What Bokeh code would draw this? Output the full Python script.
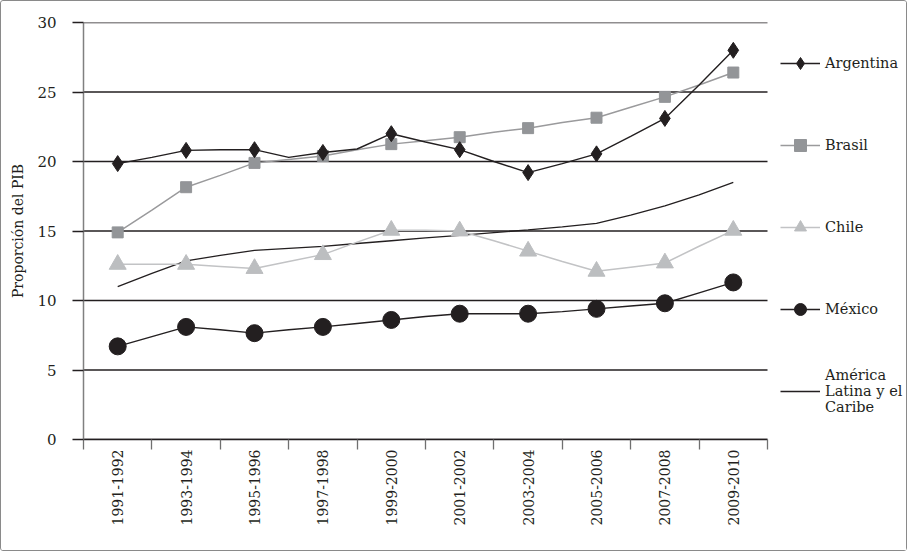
import math
from bokeh.plotting import figure
from bokeh.models import FixedTicker, Legend, LegendItem, Range1d
from bokeh.embed import file_html
from bokeh.resources import INLINE

periods = ["1991-1992", "1993-1994", "1995-1996", "1997-1998", "1999-2000",
           "2001-2002", "2003-2004", "2005-2006", "2007-2008", "2009-2010"]

# values at each period (markers) and at the in-between year (line vertices)
argentina = [19.85, 20.8, 20.85, 20.65, 22.0, 20.85, 19.2, 20.55, 23.1, 28.0]
argentina_mid = [20.3, 20.85, 20.3, 20.9, 21.4, 20.0, 19.85, 21.8, 25.5]
brasil = [14.9, 18.15, 19.9, 20.4, 21.25, 21.75, 22.4, 23.15, 24.65, 26.4]
brasil_mid = [16.5, 19.0, 20.15, 20.85, 21.5, 22.1, 22.8, 23.9, 25.5]
chile = [12.6, 12.6, 12.3, 13.3, 15.05, 15.0, 13.55, 12.1, 12.7, 15.05]
chile_mid = [12.6, 12.45, 12.8, 14.2, 15.05, 14.3, 12.8, 12.4, 13.9]
mexico = [6.7, 8.1, 7.65, 8.1, 8.6, 9.05, 9.05, 9.4, 9.8, 11.3]
mexico_mid = [7.4, 7.9, 7.9, 8.35, 8.85, 9.05, 9.2, 9.6, 10.55]
lac = [11.0, 12.85, 13.6, 13.9, 14.3, 14.68, 15.08, 15.55, 16.8, 18.5]
lac_mid = [11.95, 13.25, 13.75, 14.1, 14.5, 14.88, 15.3, 16.15, 17.6]

y_ticks = [0, 5, 10, 15, 20, 25, 30]

FONT = "DejaVu Serif"
INK = "#231f20"

n = len(periods)
CAT_PX = 684      # pixel width of the category area
FRAME_W = 822     # frame also hosts the legend on its right
x_start = -0.5
x_end = x_start + n * FRAME_W / CAT_PX


def full_series(vals, mids):
    xs, ys = [], []
    for i, v in enumerate(vals):
        xs.append(i)
        ys.append(v)
        if i < len(mids):
            xs.append(i + 0.5)
            ys.append(mids[i])
    return xs, ys


p = figure(frame_width=FRAME_W, frame_height=417,
           x_range=Range1d(x_start, x_end), y_range=Range1d(0, 30),
           output_backend="svg", toolbar_location=None,
           min_border_left=82, min_border_top=21, min_border_right=1,
           min_border_bottom=111)
p.styles = {"border": "1px solid #8a8a8a", "border-radius": "3px"}
p.outline_line_color = None
p.background_fill_color = "white"
p.border_fill_color = "white"

p.xgrid.visible = False
p.ygrid.visible = False

# horizontal grid lines limited to the category area
p.segment(x0=[x_start] * len(y_ticks), x1=[x_start + n] * len(y_ticks),
          y0=y_ticks, y1=y_ticks, line_color=INK, line_width=1.3)

# y axis
p.yaxis.ticker = FixedTicker(ticks=y_ticks)
p.yaxis.axis_line_color = "#808080"
p.yaxis.axis_line_width = 1.5
p.yaxis.major_tick_line_color = INK
p.yaxis.major_tick_line_width = 1.3
p.yaxis.major_tick_out = 11
p.yaxis.major_tick_in = 0
p.yaxis.minor_tick_out = 0
p.yaxis.minor_tick_in = 0
p.yaxis.major_label_standoff = 16
p.yaxis.major_label_text_font = FONT
p.yaxis.major_label_text_font_size = "15px"
p.yaxis.major_label_text_color = INK
p.yaxis.axis_label = "Proporción del PIB"
p.yaxis.axis_label_text_font = FONT
p.yaxis.axis_label_text_font_size = "14px"
p.yaxis.axis_label_text_font_style = "normal"
p.yaxis.axis_label_text_color = INK
p.yaxis.axis_label_standoff = 8

# x axis
p.xaxis.bounds = (x_start, x_start + n)
p.xaxis.ticker = FixedTicker(ticks=list(range(n)),
                             minor_ticks=[x_start + i for i in range(n + 1)])
p.xaxis.major_label_overrides = {i: lab for i, lab in enumerate(periods)}
p.xaxis.major_label_orientation = math.pi / 2
p.xaxis.axis_line_color = INK
p.xaxis.axis_line_width = 1.3
p.xaxis.major_tick_out = 0
p.xaxis.major_tick_in = 0
p.xaxis.minor_tick_out = 10
p.xaxis.minor_tick_in = 0
p.xaxis.minor_tick_line_color = "#707070"
p.xaxis.minor_tick_line_width = 1.3
p.xaxis.major_label_standoff = 0
p.xaxis.major_label_text_font = FONT
p.xaxis.major_label_text_font_size = "14px"
p.xaxis.major_label_text_color = INK

# LAC (drawn first, no markers)
xs, ys = full_series(lac, lac_mid)
l_lac = p.line(xs, ys, line_color=INK, line_width=1.3)

# Brasil
xs, ys = full_series(brasil, brasil_mid)
l_br = p.line(xs, ys, line_color="#9a9a9c", line_width=1.5)
m_br = p.scatter(list(range(n)), brasil, marker="square", size=11,
                 fill_color="#939598", line_color="#939598")

# Chile
xs, ys = full_series(chile, chile_mid)
l_cl = p.line(xs, ys, line_color="#c2c3c5", line_width=1.5)
m_cl = p.scatter(list(range(n)), chile, marker="triangle", size=17,
                 fill_color="#bcbec0", line_color="#bcbec0")

# Argentina
xs, ys = full_series(argentina, argentina_mid)
l_ar = p.line(xs, ys, line_color=INK, line_width=1.4)
m_ar = p.scatter(list(range(n)), argentina, marker="diamond", size=16,
                 fill_color=INK, line_color=INK)

# México
xs, ys = full_series(mexico, mexico_mid)
l_mx = p.line(xs, ys, line_color=INK, line_width=1.4)
m_mx = p.scatter(list(range(n)), mexico, marker="circle", size=17,
                 fill_color=INK, line_color=INK)

legend = Legend(items=[
    LegendItem(label="Argentina", renderers=[l_ar, m_ar]),
    LegendItem(label="Brasil", renderers=[l_br, m_br]),
    LegendItem(label="Chile", renderers=[l_cl, m_cl]),
    LegendItem(label="México", renderers=[l_mx, m_mx]),
    LegendItem(label="América\nLatina y el\nCaribe", renderers=[l_lac]),
], location=(697, 18), orientation="vertical")
legend.glyph_width = 40
legend.glyph_height = 30
legend.label_height = 60
legend.spacing = 22
legend.padding = 0
legend.margin = 0
legend.label_standoff = 5
legend.border_line_color = None
legend.background_fill_alpha = 0
legend.label_text_font = FONT
legend.label_text_font_size = "14.5px"
legend.label_text_color = INK
legend.label_text_line_height = 1.4
p.add_layout(legend)

open("out.html", "w").write(file_html(p, INLINE))
